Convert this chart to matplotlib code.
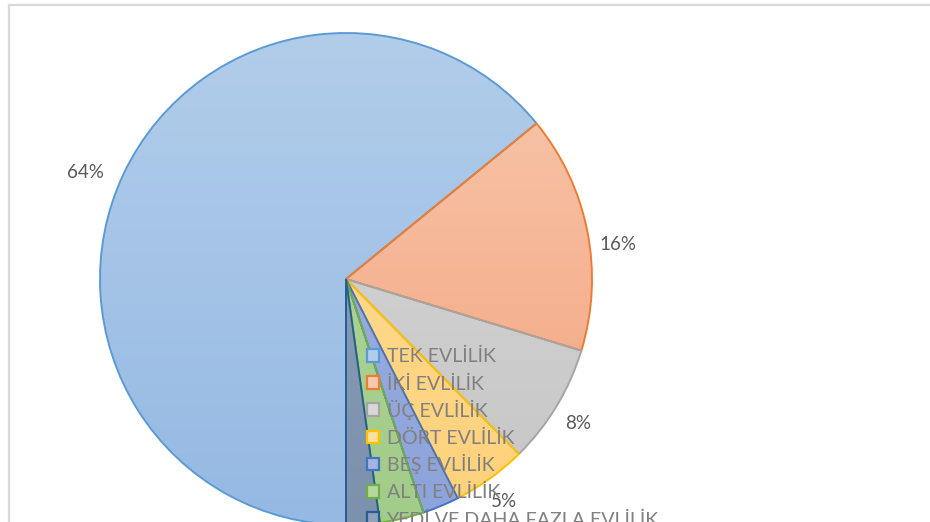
import numpy as np
import matplotlib
matplotlib.use("Agg")
import matplotlib.pyplot as plt
from matplotlib.patches import Rectangle
from matplotlib.lines import Line2D
from matplotlib.colors import to_rgb
from matplotlib.transforms import ScaledTranslation

plt.rcParams['font.family'] = ['Lato', 'DejaVu Sans']

categories = ["TEK EVLİLİK", "İKİ EVLİLİK", "ÜÇ EVLİLİK", "DÖRT EVLİLİK",
              "BEŞ EVLİLİK", "ALTI EVLİLİK", "YEDİ VE DAHA FAZLA EVLİLİK"]
values = [64.1, 15.6, 7.9, 4.9, 2.4, 2.9, 2.2]
edge_colors = ["#5B9BD5", "#ED7D31", "#A5A5A5", "#FFC000", "#4472C4", "#70AD47", "#255E91"]
fill_top = ["#B2CDEA", "#F8C8AE", "#D8D8D8", "#FFE09A", "#A2B5E2", "#B4D89E", "#8EA2BC"]
fill_bottom = ["#95B9E3", "#F3A27C", "#C6C6C6", "#FFD17A", "#8CA3DB", "#A2CC89", "#7C91AD"]

# small pixel nudges for the percentage labels (x right, y down)
label_nudge = [(-12, 12), (2, 19), (-4, 2), (-3, -1), (0, 0), (0, 0), (0, 0)]

W, H = 930, 522
fig = plt.figure(figsize=(W / 100, H / 100), dpi=100)
fig.patch.set_facecolor("white")

cx, cy, r = 346, 279, 246
ax = fig.add_axes([(cx - r) / W, (H - cy - r) / H, 2 * r / W, 2 * r / H])

wedges, texts, autotexts = ax.pie(
    values, startangle=-90, counterclock=False, radius=1,
    autopct='%.0f%%', pctdistance=1.12, labeldistance=None,
    wedgeprops=dict(linewidth=1.4, facecolor='none'),
    textprops=dict(fontsize=13.5, color='#595959'))
ax.set_xlim(-1, 1)
ax.set_ylim(-1, 1)
ax.set_aspect('equal')
ax.axis('off')

grad_y = np.linspace(0, 1, 256).reshape(-1, 1, 1)
for w, ec, ft, fb in zip(wedges, edge_colors, fill_top, fill_bottom):
    w.set_edgecolor(ec)
    w.set_zorder(3)
    top = np.array(to_rgb(ft))[None, None, :]
    bot = np.array(to_rgb(fb))[None, None, :]
    img = top * (1 - grad_y) + bot * grad_y
    im = ax.imshow(img, extent=(-1, 1, -1, 1), origin='upper', zorder=2, aspect='auto')
    im.set_clip_path(w)

for t, (dx, dy) in zip(autotexts, label_nudge):
    t.set_clip_on(False)
    t.set_zorder(6)
    t.set_transform(t.get_transform() + ScaledTranslation(dx / 100, -dy / 100, fig.dpi_scale_trans))


# legend drawn as rows in figure pixel space
def fx(px):
    return px / W


def fy(py):
    return (H - py) / H


row0, step = 355, 27.2
for i, (name, ec, ft) in enumerate(zip(categories, edge_colors, fill_top)):
    yc = row0 + i * step
    fig.add_artist(Rectangle((fx(366.5), fy(yc + 6.5)), 12.5 / W, 12.5 / H,
                             facecolor=ft, edgecolor=ec, linewidth=1.6,
                             transform=fig.transFigure, zorder=7))
    fig.text(fx(386.5), fy(yc + 7.5), name, fontsize=14.1, color='#808080',
             va='baseline', ha='left', zorder=8)

# chart frame
fig.add_artist(Line2D([fx(8.5), fx(8.5)], [0, fy(4.5)], color='#D9D9D9', lw=1.6))
fig.add_artist(Line2D([fx(8.5), 1], [fy(4.5), fy(4.5)], color='#D9D9D9', lw=1.6))

fig.savefig("out.png", dpi=100)
